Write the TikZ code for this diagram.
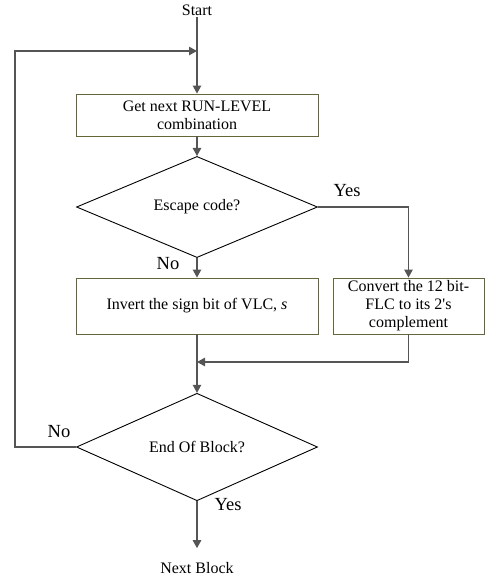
\documentclass[tikz,border=0pt]{standalone}
\usepackage{fontspec}
\setmainfont{Liberation Serif}
\usetikzlibrary{arrows.meta,shapes.geometric}
\definecolor{boxline}{RGB}{102,102,58}
\definecolor{wire}{RGB}{85,85,85}

\begin{document}
\begin{tikzpicture}[x=1pt,y=-1pt]
    \tikzset{
        txt/.style={font=\fontsize{16}{18}\selectfont, inner sep=1pt},
        answer/.style={font=\fontsize{18.5}{20}\selectfont, inner sep=0pt},
        stepbox/.style={txt, draw=boxline, line width=0.9pt, align=center,
            minimum width=242pt, minimum height=42pt},
        decision/.style={txt, diamond, draw, line width=0.9pt, inner sep=0pt,
            minimum width=241pt, minimum height=84pt},
        flow/.style={draw=wire, line width=1.1pt, -{Triangle[length=8pt,width=8.5pt]}},
        wireline/.style={draw=wire, line width=1.1pt}}
    \useasboundingbox (0,0) rectangle (485,579);

    \node[txt] (start) at (197,10) {Start};
    \node[stepbox] (get) at (197,115) {Get next RUN-LEVEL\\combination};
    \node[decision] (esc) at (197,207) {Escape code?};
    \node[stepbox, minimum height=56pt] (inv) at (197,306)
        {Invert the sign bit of VLC, \textit{s}};
    \node[stepbox, minimum width=151pt, minimum height=56pt] (conv) at (408.5,306)
        {Convert the 12 bit-\\FLC to its 2\textquotesingle s\\complement};
    \node[decision] (eob) at (197,447) {End Of Block?};
    \node[txt] (next) at (197,568) {Next Block};

    % answers
    \node[answer] (escyes) at (347,191) {Yes};
    \node[answer] (escno) at (168,264) {No};
    \node[answer] (eobno) at (59,432) {No};
    \node[answer] (eobyes) at (228,505) {Yes};

    \coordinate (loop) at (15,51);
    \coordinate (join) at (197,51);
    \coordinate (merge) at (197,362);

    \draw[flow] (start) -- (get);
    \draw[flow] (get) -- (esc);
    \draw[flow] (esc.east) -| (conv.north);
    \draw[flow] (esc) -- (inv);
    \draw[flow] (conv.south) |- (merge);
    \draw[flow] (inv) -- (eob);
    \draw[flow] (eob.west) -| (loop) -- (join);
    \draw[flow, shorten >=13pt] (eob) -- (next);
\end{tikzpicture}
\end{document}
